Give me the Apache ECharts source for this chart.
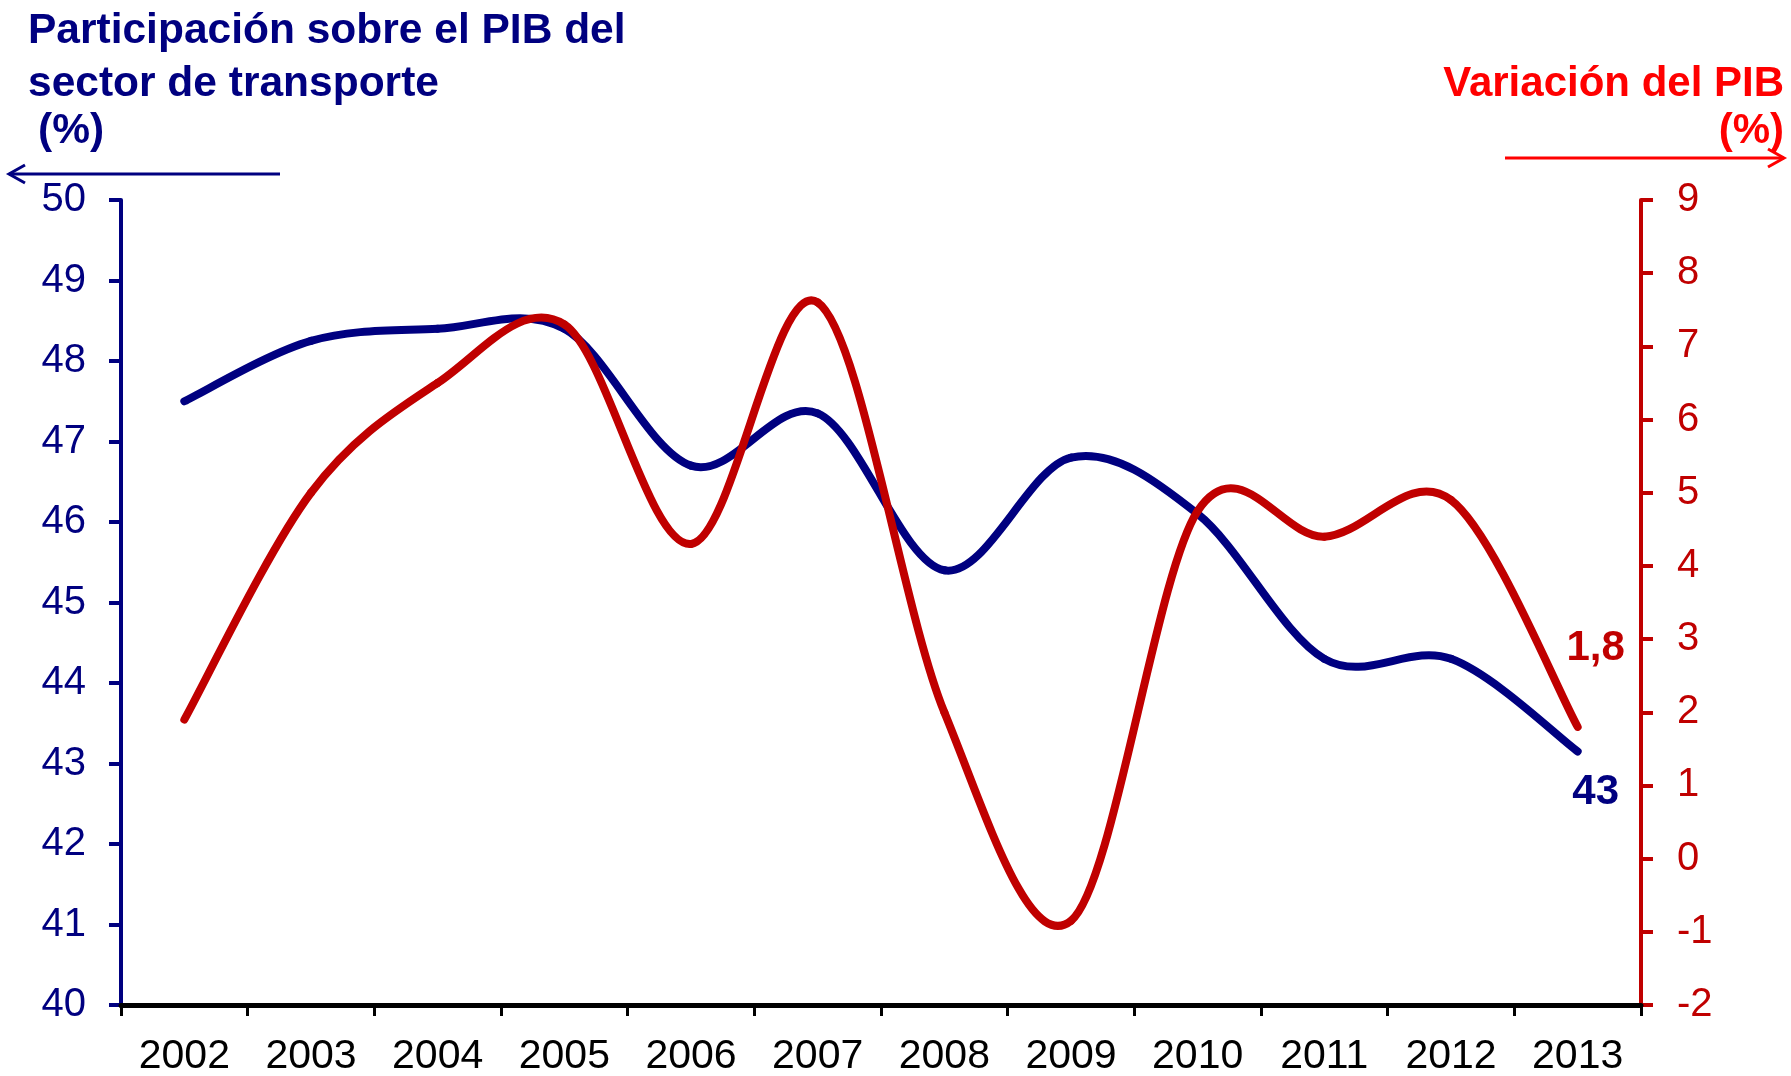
<!DOCTYPE html>
<html>
<head>
<meta charset="utf-8">
<script src="https://cdn.jsdelivr.net/npm/echarts@6/dist/echarts.min.js"></script>
<style>
html,body{margin:0;padding:0;background:#fff;}
#c{width:1791px;height:1076px;}
</style>
</head>
<body>
<div id="c"></div>
<script>
const years = ['2002','2003','2004','2005','2006','2007','2008','2009','2010','2011','2012','2013'];
const transportShare = [47.5, 48.25, 48.4, 48.4, 46.7, 47.35, 45.4, 46.8, 46.1, 44.3, 44.3, 43.15];
const gdpGrowth = [1.9, 5.0, 6.5, 7.3, 4.3, 7.6, 2.0, -0.85, 4.75, 4.4, 4.9, 1.8];
const leftTitle = ['Participación sobre el PIB del', 'sector de transporte', '(%)'];
const rightTitle = ['Variación del PIB', '(%)'];

const NAVY = '#000080';
const DRED = '#c00000';
const RED = '#ff0000';
const FONT = '"Liberation Sans", Arial, sans-serif';

const chart = echarts.init(document.getElementById('c'), null, {renderer: 'canvas'});

// Smooth curve (Catmull-Rom style, like spreadsheet smoothed lines) through the
// points placed by the axes' own scales (api.coord).
function makeRender(values, color, lastLabel) {
  return function (params, api) {
    const i = params.dataIndex;
    const n = values.length;
    const P = k => api.coord([k, values[k]]);
    const children = [];
    if (i < n - 1) {
      const p1 = P(i), p2 = P(i + 1);
      const p0 = i > 0 ? P(i - 1) : p1;
      const p3 = i + 2 < n ? P(i + 2) : p2;
      const t = 1 / 6;
      children.push({
        type: 'bezierCurve',
        shape: {
          x1: p1[0], y1: p1[1], x2: p2[0], y2: p2[1],
          cpx1: p1[0] + (p2[0] - p0[0]) * t, cpy1: p1[1] + (p2[1] - p0[1]) * t,
          cpx2: p2[0] - (p3[0] - p1[0]) * t, cpy2: p2[1] - (p3[1] - p1[1]) * t
        },
        style: {stroke: color, lineWidth: 8, fill: null, lineCap: 'round', lineJoin: 'round'}
      });
    } else {
      const p = P(i);
      children.push({
        type: 'text',
        x: p[0] + lastLabel.dx, y: p[1] + lastLabel.dy,
        style: {
          text: lastLabel.format(values[i]), fill: color,
          font: 'bold 42px ' + FONT, align: 'center', verticalAlign: 'middle',
          textAlign: 'center', textVerticalAlign: 'middle'
        }
      });
    }
    return {type: 'group', children};
  };
}

const option = {
  backgroundColor: '#fff',
  animation: false,
  grid: {left: 121, right: 150, top: 200, bottom: 71, containLabel: false, outerBoundsMode: 'none'},
  xAxis: {
    type: 'category',
    data: years,
    boundaryGap: true,
    axisLine: {show: true, onZero: false, lineStyle: {color: '#000', width: 5}},
    axisTick: {show: true, length: 11, lineStyle: {color: '#000', width: 3}},
    axisLabel: {color: '#000', fontSize: 41, fontFamily: FONT, margin: 31, interval: 0},
    splitLine: {show: false},
    z: 5
  },
  yAxis: [
    {
      type: 'value', position: 'left', min: 40, max: 50, interval: 1,
      axisLine: {show: true, lineStyle: {color: NAVY, width: 4}},
      axisTick: {show: true, length: 12, lineStyle: {color: NAVY, width: 4}},
      axisLabel: {color: NAVY, fontSize: 40, fontFamily: FONT, margin: 35},
      splitLine: {show: false}
    },
    {
      type: 'value', position: 'right', min: -2, max: 9, interval: 1,
      axisLine: {show: true, lineStyle: {color: DRED, width: 4}},
      axisTick: {show: true, length: 12, lineStyle: {color: DRED, width: 4}},
      axisLabel: {color: DRED, fontSize: 40, fontFamily: FONT, margin: 36},
      splitLine: {show: false}
    }
  ],
  series: [
    {
      name: 'Participación', type: 'custom', yAxisIndex: 0,
      data: transportShare.map((v, i) => [i, v]),
      encode: {x: 0, y: 1},
      renderItem: makeRender(transportShare, NAVY, {dx: 18, dy: 41, format: v => String(Math.round(v))}),
      clip: false,
      z: 2
    },
    {
      name: 'Variación', type: 'custom', yAxisIndex: 1,
      data: gdpGrowth.map((v, i) => [i, v]),
      encode: {x: 0, y: 1},
      renderItem: makeRender(gdpGrowth, DRED, {dx: 18, dy: -78, format: v => String(v).replace('.', ',')}),
      clip: false,
      z: 3
    }
  ],
  graphic: [
    {type: 'text', left: 28, top: 10, style: {text: leftTitle[0], fill: NAVY, font: 'bold 42.5px ' + FONT}},
    {type: 'text', left: 28, top: 63, style: {text: leftTitle[1], fill: NAVY, font: 'bold 42.5px ' + FONT}},
    {type: 'text', left: 38, top: 110, style: {text: leftTitle[2], fill: NAVY, font: 'bold 42.5px ' + FONT}},
    {type: 'text', right: 7, top: 63, style: {text: rightTitle[0], fill: RED, font: 'bold 42px ' + FONT}},
    {type: 'text', right: 7, top: 110, style: {text: rightTitle[1], fill: RED, font: 'bold 42px ' + FONT}},
    {type: 'polyline', shape: {points: [[280, 174], [9, 174]]}, style: {stroke: NAVY, lineWidth: 3}},
    {type: 'polyline', shape: {points: [[25, 165], [9, 174], [25, 183]]}, style: {stroke: NAVY, lineWidth: 3, fill: null}},
    {type: 'polyline', shape: {points: [[1505, 158], [1784, 158]]}, style: {stroke: RED, lineWidth: 3}},
    {type: 'polyline', shape: {points: [[1768, 149], [1784, 158], [1768, 167]]}, style: {stroke: RED, lineWidth: 3, fill: null}}
  ]
};
chart.setOption(option);
</script>
</body>
</html>
